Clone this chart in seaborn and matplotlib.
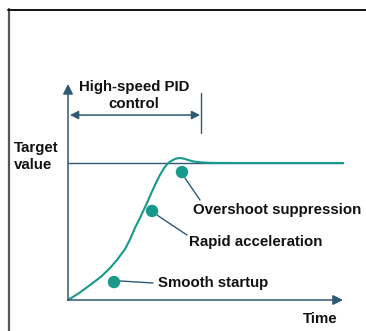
import matplotlib
matplotlib.use("Agg")
import matplotlib.pyplot as plt
from matplotlib.lines import Line2D
import seaborn as sns
import pandas as pd

# ---- data ----
time = [0.0, 0.4, 0.8, 1.2, 1.53, 1.78, 2.07, 2.25, 2.42, 2.62, 2.87, 3.05, 3.2, 3.35,
        3.5, 3.6, 3.7, 3.8, 3.9, 4.0, 4.1, 4.25, 4.4, 4.55, 4.8, 5.16, 5.89, 6.98, 8.44, 10.0]
value = [0.0, 0.05, 0.109, 0.17, 0.234, 0.292, 0.37, 0.44, 0.52, 0.60, 0.708, 0.79, 0.855, 0.915,
         0.965, 0.99, 1.008, 1.02, 1.03, 1.035, 1.036, 1.03, 1.02, 1.012, 1.005, 1.001, 1.0, 1.0, 1.0, 1.0]
target_value = 1.0
time_end = 10.0

dot_labels = ["Overshoot suppression", "Rapid acceleration", "Smooth startup"]
dot_time = [4.145, 3.055, 1.673]
dot_value = [0.934, 0.650, 0.131]
label_time = [4.55, 4.4, 3.26]
label_value = [0.658, 0.427, 0.121]

pid_start, pid_end = 0.07, 4.836
pid_label = "High-speed PID\ncontrol"
y_label = "Target\nvalue"
x_label = "Time"

# ---- style ----
sns.set_style("white")
plt.rcParams['font.family'] = ['Liberation Sans', 'DejaVu Sans']

TEAL = "#17998b"
AXC = "#2f5a73"
FS = 10.8

fig = plt.figure(figsize=(3.66, 3.31), dpi=100)
ax = fig.add_axes([0, 0, 1, 1])
ax.set_xlim(-68 / 27.5, (366 - 68) / 27.5)
ax.set_ylim(-31 / 137, 300 / 137)
ax.axis("off")

# axes arrows
arrow_kw = dict(arrowstyle="-|>,head_length=0.6,head_width=0.3", color=AXC, lw=1.1,
                shrinkA=0, shrinkB=0)
ax.annotate("", xy=(time_end, 0), xytext=(0, 0), arrowprops=arrow_kw)
ax.annotate("", xy=(0, 1.577), xytext=(0, 0), arrowprops=arrow_kw)

# target line
ax.plot([0, time_end], [target_value, target_value], color=AXC, lw=1.0)

# response curve
df = pd.DataFrame({"time": time, "value": value})
sns.lineplot(data=df, x="time", y="value", ax=ax, color=TEAL, lw=1.5, sort=False)

# PID interval
ax.plot([pid_end, pid_end], [1.219, 1.511], color=AXC, lw=1.0)
ax.annotate("", xy=(pid_start, 1.35), xytext=(pid_end - 0.03, 1.35),
            arrowprops=dict(arrowstyle="<|-|>,head_length=0.5,head_width=0.25", color=AXC,
                            lw=1.1, shrinkA=0, shrinkB=0))
ax.text((pid_start + pid_end) / 2 - 0.05, 1.495, pid_label, ha="center", va="center",
        fontsize=FS, fontweight="bold", color="#111111", linespacing=1.25)

# axis labels
ax.text(-54 / 27.5, target_value + 0.047, y_label, ha="left", va="center",
        fontsize=FS, fontweight="bold", color="#111111", linespacing=1.2)
ax.text(time_end - 23 / 27.5, -19 / 137, x_label, ha="center", va="center",
        fontsize=FS, fontweight="bold", color="#111111")

# leader lines + dots + labels
leader_start = [(4.25, 0.891), (3.236, 0.620), (1.891, 0.139)]
leader_end = [(4.8, 0.730), (4.327, 0.474), (3.091, 0.124)]
for (x0, y0), (x1, y1) in zip(leader_start, leader_end):
    ax.plot([x0, x1], [y0, y1], color=AXC, lw=1.0)
dots = pd.DataFrame({"t": dot_time, "v": dot_value})
sns.scatterplot(data=dots, x="t", y="v", ax=ax, color=TEAL, s=80, edgecolor="none", zorder=5)
for lab, tx, ty in zip(dot_labels, label_time, label_value):
    ax.text(tx, ty, lab, ha="left", va="center", fontsize=FS, fontweight="bold", color="#111111")

# outer frame (cropped)
fig.add_artist(Line2D([8.5 / 366, 8.5 / 366], [0, 1 - 9 / 331], transform=fig.transFigure,
                      color="#555555", lw=1.6))
fig.add_artist(Line2D([8 / 366, 1], [1 - 9.5 / 331, 1 - 9.5 / 331], transform=fig.transFigure,
                      color="#000000", lw=1.3))

fig.savefig("out.png", dpi=100)
